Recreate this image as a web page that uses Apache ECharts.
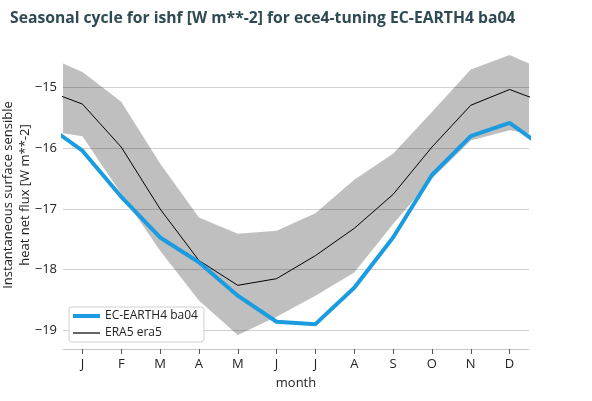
<!DOCTYPE html>
<html>
<head>
<meta charset="utf-8">
<script src="https://cdn.jsdelivr.net/npm/echarts@6/dist/echarts.min.js"></script>
<style>
html,body{margin:0;padding:0;background:#fff;}
#chart{width:592px;height:401px;}
</style>
</head>
<body>
<div id="chart"></div>
<script>
// Month tick labels (Jan..Dec)
var monthLabels = ['J','F','M','A','M','J','J','A','S','O','N','D'];
// EC-EARTH4 ba04 monthly mean (Jan..Dec)
var modelVals = [-16.04, -16.80, -17.47, -17.88, -18.43, -18.86, -18.90, -18.30, -17.47, -16.44, -15.80, -15.58];
// ERA5 era5 monthly mean (Jan..Dec)
var eraVals = [-15.27, -15.98, -17.00, -17.85, -18.26, -18.15, -17.77, -17.32, -16.76, -15.98, -15.29, -15.03];
// ERA5 spread band (Jan..Dec)
var bandHigh = [-14.74, -15.23, -16.25, -17.14, -17.41, -17.36, -17.07, -16.52, -16.09, -15.40, -14.70, -14.46];
var bandLow = [-15.80, -16.75, -17.69, -18.51, -19.08, -18.78, -18.43, -18.05, -17.25, -16.50, -15.87, -15.70];
// y tick values
var yTicks = [-19, -18, -17, -16, -15];

// cyclic wrap: Dec before Jan (x=0), Jan after Dec (x=13)
function wrap(arr) {
  var out = [[0, arr[11]]];
  for (var i = 0; i < 12; i++) out.push([i + 1, arr[i]]);
  out.push([13, arr[0]]);
  return out;
}
var highData = wrap(bandHigh);
var lowData = wrap(bandLow);
var bandData = highData.map(function (p, i) { return [p[0], lowData[i][1], p[1]]; });
var monthTicks = monthLabels.map(function (_, i) { return i + 1; });

var FONT = '"Open Sans", "DejaVu Sans", sans-serif';
var chart = echarts.init(document.getElementById('chart'), null, {renderer: 'canvas'});
chart.setOption({
  animation: false,
  backgroundColor: '#fff',
  title: {
    text: 'Seasonal cycle for ishf [W m**-2] for ece4-tuning EC-EARTH4 ba04',
    left: 5, top: 6,
    textStyle: {fontFamily: FONT, fontWeight: 'bold', fontSize: 15.7, color: '#2f4a52'}
  },
  grid: {left: 63, right: 63, top: 41, bottom: 52, containLabel: false, outerBoundsMode: 'none'},
  legend: {
    data: [
      {name: 'EC-EARTH4 ba04', icon: 'path://M0,0 H27 V4 H0 Z'},
      {name: 'ERA5 era5', icon: 'path://M0,0 H27 V1.2 H0 Z'}
    ],
    orient: 'vertical',
    left: 69, top: 307,
    itemWidth: 27, itemHeight: 10, itemGap: 5,
    symbolKeepAspect: true,
    padding: [3, 6, 3, 4],
    backgroundColor: '#fff',
    borderColor: '#d0d0d0', borderWidth: 1, borderRadius: 3,
    textStyle: {fontFamily: FONT, fontSize: 12, color: '#222'}
  },
  xAxis: {
    type: 'value', min: 0.5, max: 12.5,
    name: 'month', nameLocation: 'middle', nameGap: 28, nameMoveOverlap: false,
    nameTextStyle: {fontFamily: FONT, fontSize: 13, color: '#222'},
    axisLine: {show: true, lineStyle: {color: '#c8c8c8', width: 1}},
    axisTick: {show: true, inside: false, length: 5, customValues: monthTicks, lineStyle: {color: '#555', width: 1}},
    axisLabel: {customValues: monthTicks, margin: 9, fontFamily: FONT, fontSize: 13, color: '#222',
      formatter: function (v) { return monthLabels[Math.round(v) - 1] || ''; }},
    splitLine: {show: false}
  },
  yAxis: {
    type: 'value', min: -19.31, max: -14.23,
    name: 'Instantaneous surface sensible\nheat net flux [W m**-2]',
    nameLocation: 'middle', nameGap: 29, nameMoveOverlap: false,
    nameTextStyle: {fontFamily: FONT, fontSize: 13, color: '#222', lineHeight: 17},
    axisLine: {show: false},
    axisTick: {show: false, customValues: yTicks},
    axisLabel: {customValues: yTicks, margin: 6, fontFamily: FONT, fontSize: 13, color: '#222',
      formatter: function (v) { return String(Math.round(v)).replace('-', '\u2212'); }},
    splitLine: {show: true, lineStyle: {color: '#d2d2d2', width: 1}}
  },
  series: [
    {
      name: 'band', type: 'custom', data: [0], clip: true, silent: true, z: 1,
      renderItem: function (params, api) {
        var pts = [];
        for (var i = 0; i < bandData.length; i++) pts.push(api.coord([bandData[i][0], bandData[i][2]]));
        for (var j = bandData.length - 1; j >= 0; j--) pts.push(api.coord([bandData[j][0], bandData[j][1]]));
        return {type: 'polygon', shape: {points: pts}, style: {fill: 'rgba(0,0,0,0.25)'}};
      }
    },
    {
      name: 'ERA5 era5', type: 'line', data: wrap(eraVals),
      symbol: 'none', lineStyle: {color: '#000', width: 1}, itemStyle: {color: '#000'}, z: 3
    },
    {
      name: 'EC-EARTH4 ba04', type: 'line', data: wrap(modelVals),
      symbol: 'none', lineStyle: {color: '#1b9ce1', width: 4}, itemStyle: {color: '#1b9ce1'}, z: 4
    }
  ]
});
</script>
</body>
</html>
